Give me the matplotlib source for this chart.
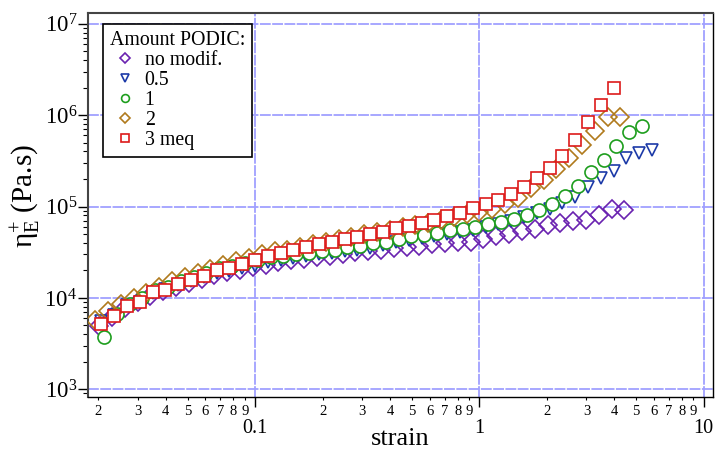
import math
import matplotlib
matplotlib.use("Agg")
import matplotlib.pyplot as plt
from matplotlib.ticker import LogLocator, FuncFormatter, NullFormatter

plt.rcParams['font.family'] = ['Liberation Serif', 'DejaVu Serif']
plt.rcParams['mathtext.fontset'] = 'custom'
plt.rcParams['mathtext.rm'] = 'Liberation Serif'
plt.rcParams['mathtext.it'] = 'Liberation Serif:italic'
plt.rcParams['mathtext.bf'] = 'Liberation Serif:bold'

# ---------------- data ----------------
strain_nomod = [0.02020, 0.02304, 0.02628, 0.02997, 0.03418, 0.03897, 0.04445, 0.05070, 0.05782, 0.06595,
                0.07521, 0.08577, 0.09783, 0.1116, 0.1272, 0.1451, 0.1655, 0.1888, 0.2153, 0.2456,
                0.2800, 0.3194, 0.3643, 0.4155, 0.4738, 0.5403, 0.6163, 0.7029, 0.8017, 0.9143,
                1.042, 1.189, 1.356, 1.547, 1.765, 2.012, 2.295, 2.617, 2.985, 3.404, 3.883, 4.428]
eta_nomod = [4890, 6200, 7800, 9000, 10600, 11800, 13200, 14600, 16000, 17600,
             19000, 20300, 21800, 23200, 24500, 25700, 26800, 27900, 29000, 30200,
             31400, 32600, 33800, 35000, 36200, 37400, 38600, 39700, 40500, 41300,
             44200, 47500, 50500, 54500, 57400, 63000, 66200, 69000, 71900, 81500, 93000, 92000]

strain_05 = [0.02064, 0.02354, 0.02685, 0.03062, 0.03492, 0.03982, 0.04542, 0.05180, 0.05908, 0.06738,
             0.07685, 0.08764, 0.09996, 0.1140, 0.1300, 0.1483, 0.1691, 0.1929, 0.2200, 0.2509,
             0.2861, 0.3263, 0.3722, 0.4245, 0.4841, 0.5521, 0.6297, 0.7182, 0.8191, 0.9342,
             1.065, 1.215, 1.386, 1.581, 1.803, 2.056, 2.345, 2.674, 3.050, 3.478, 3.967, 4.524, 5.160, 5.885]
eta_05 = [5600, 6500, 8400, 9100, 11200, 12500, 14000, 15300, 16800, 18500,
          19700, 21000, 22500, 24500, 25800, 27200, 28600, 30000, 31200, 32400,
          33800, 35200, 37800, 40500, 42800, 45300, 47200, 49500, 52000, 55000,
          60000, 64000, 70000, 76000, 84000, 95000, 108000, 126000, 162000, 207000,
          247000, 343000, 389000, 416000]

strain_1 = [0.02122, 0.02420, 0.02760, 0.03148, 0.03590, 0.04094, 0.04669, 0.05325, 0.06073, 0.06927,
            0.07900, 0.09009, 0.1028, 0.1172, 0.1336, 0.1525, 0.1738, 0.1983, 0.2262, 0.2579,
            0.2941, 0.3354, 0.3826, 0.4364, 0.4977, 0.5676, 0.6473, 0.7383, 0.8420, 0.9604,
            1.095, 1.249, 1.425, 1.625, 1.853, 2.114, 2.411, 2.749, 3.135, 3.575, 4.078, 4.651, 5.304]
eta_1 = [3780, 6600, 8600, 10100, 12300, 13300, 15200, 16800, 18700, 21200,
         22400, 24000, 25800, 27900, 28800, 30000, 31000, 32200, 33200, 35800,
         37400, 39600, 41300, 44200, 47200, 49300, 50900, 55500, 57300, 59200,
         64500, 67200, 72500, 80500, 90900, 107000, 131000, 169000, 237000, 324000,
         464000, 648000, 767000]

strain_2 = [0.01939, 0.02211, 0.02522, 0.02876, 0.03280, 0.03740, 0.04266, 0.04866, 0.05549, 0.06329,
            0.07219, 0.08232, 0.09389, 0.1071, 0.1221, 0.1393, 0.1588, 0.1812, 0.2066, 0.2357,
            0.2687, 0.3065, 0.3496, 0.3987, 0.4547, 0.5186, 0.5915, 0.6746, 0.7694, 0.8775,
            1.001, 1.141, 1.302, 1.485, 1.694, 1.931, 2.203, 2.512, 2.865, 3.267, 3.726, 4.250]
eta_2 = [5700, 7200, 8660, 10080, 11300, 13200, 15300, 17000, 18900, 20900,
         23200, 25200, 27600, 30500, 32400, 33800, 36500, 39000, 41200, 44000,
         46500, 49500, 52500, 56000, 59500, 62500, 66000, 71000, 76000, 83000,
         88000, 95000, 106000, 125000, 160000, 195000, 258000, 341000, 475000, 676000,
         946000, 946000]

strain_3 = [0.02064, 0.02354, 0.02685, 0.03062, 0.03492, 0.03982, 0.04542, 0.05180, 0.05908, 0.06738,
            0.07685, 0.08764, 0.09996, 0.1140, 0.1300, 0.1483, 0.1691, 0.1929, 0.2200, 0.2509,
            0.2861, 0.3263, 0.3722, 0.4245, 0.4841, 0.5521, 0.6297, 0.7182, 0.8191, 0.9342,
            1.065, 1.215, 1.386, 1.581, 1.803, 2.056, 2.345, 2.674, 3.050, 3.478, 3.967]
eta_3 = [5140, 6380, 8150, 9080, 11700, 12200, 14100, 15700, 17400, 20200,
         21400, 23300, 26000, 29000, 31200, 33400, 36300, 38600, 41200, 43700,
         46000, 50000, 53000, 57700, 61200, 65500, 71200, 78700, 84300, 95600,
         106000, 118000, 136000, 162000, 203000, 262000, 357000, 534000, 834000, 1290000,
         1960000]

labels = ['no modif.', '0.5', '1', '2', '3 meq']
colors = ['#6a22b0', '#1c3aa8', '#1e9e1e', '#b07a1c', '#dd1a1a']
markers = ['D', 'v', 'o', 'D', 's']
sizes = [9.0, 8.8, 9.4, 9.0, 8.6]
faces = ['none', 'none', 'white', 'none', 'white']

# ---------------- figure ----------------
fig = plt.figure(figsize=(7.17, 4.5), dpi=100)
ax = fig.add_axes([0.1227, 0.1178, 0.8714, 0.8533])
ax.set_xscale('log')
ax.set_yscale('log')

data = [(strain_nomod, eta_nomod), (strain_05, eta_05), (strain_1, eta_1),
        (strain_2, eta_2), (strain_3, eta_3)]
for i, (xs, ys) in enumerate(data):
    ax.plot(xs, ys, linestyle='none', marker=markers[i], markersize=sizes[i],
            markerfacecolor=faces[i], markeredgecolor=colors[i], markeredgewidth=1.2,
            label=labels[i], zorder=3 + i)

ax.set_xlim(0.018, 10.97)
ax.set_ylim(824, 1.31e7)

ax.set_axisbelow(True)
ax.grid(which='major', color='#a0a0ff', linewidth=1.3, linestyle=(0, (6, 0.8)))

ax.xaxis.set_major_locator(LogLocator(base=10, numticks=10))
ax.xaxis.set_minor_locator(LogLocator(base=10, subs=range(2, 10), numticks=30))
ax.xaxis.set_major_formatter(FuncFormatter(lambda v, p: f"{v:g}"))
ax.xaxis.set_minor_formatter(FuncFormatter(
    lambda v, p: f"{int(round(v / 10 ** math.floor(math.log10(v) + 1e-9)))}"))
ax.yaxis.set_major_locator(LogLocator(base=10, numticks=10))
ax.yaxis.set_minor_locator(LogLocator(base=10, subs=range(2, 10), numticks=30))
ax.yaxis.set_major_formatter(FuncFormatter(lambda v, p: r'$10^{%d}$' % round(math.log10(v))))
ax.yaxis.set_minor_formatter(NullFormatter())

ax.tick_params(axis='x', which='major', direction='out', length=7.2, width=1.0,
               labelsize=14.5, pad=8.5, colors='black')
ax.tick_params(axis='x', which='minor', direction='out', length=2.2, width=0.8,
               labelsize=10.5, pad=3.6, colors='black')
ax.tick_params(axis='y', which='major', direction='out', length=7.2, width=1.0,
               labelsize=16.5, pad=0.5, colors='black')
ax.tick_params(axis='y', which='minor', direction='out', length=3.6, width=0.8)

for s in ['left', 'top']:
    ax.spines[s].set_color('#444444')
    ax.spines[s].set_linewidth(1.5)
for s in ['right', 'bottom']:
    ax.spines[s].set_color('black')
    ax.spines[s].set_linewidth(1.0)

ax.set_xlabel('strain', fontsize=19)
ax.xaxis.set_label_coords(0.5, -0.08)
ax.set_ylabel(r'η$_{\mathrm{E}}^{+}$ (Pa.s)', fontsize=21)
ax.yaxis.set_label_coords(-0.072, 0.522)

leg = ax.legend(title='Amount PODIC:', loc='upper left', bbox_to_anchor=(0.024, 0.9714),
                borderaxespad=0, frameon=True, fancybox=False, edgecolor='black',
                framealpha=1, fontsize=14.3, title_fontsize=14.3, markerscale=0.6,
                handlelength=1.5, handletextpad=0.25, labelspacing=0.05, borderpad=0.35,
                alignment='left')
leg.get_frame().set_linewidth(1.2)
leg.set_zorder(10)

fig.savefig('out.png', dpi=100)
